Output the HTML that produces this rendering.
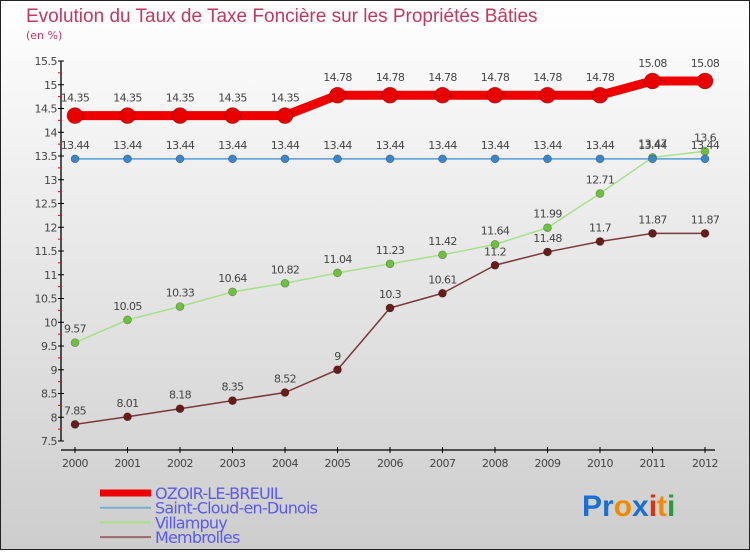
<!DOCTYPE html>
<html><head><meta charset="utf-8"><style>
html,body{margin:0;padding:0}
body{width:750px;height:550px;overflow:hidden;font-family:"DejaVu Sans","Liberation Sans",sans-serif}
</style></head><body>
<svg width="750" height="550" xmlns="http://www.w3.org/2000/svg">
<defs><linearGradient id="bg" x1="0" y1="0" x2="0" y2="1"><stop offset="0" stop-color="#ffffff"/><stop offset="1" stop-color="#cdcdcd"/></linearGradient></defs>
<rect x="0.5" y="0.5" width="749" height="549" fill="url(#bg)" stroke="#222"/>
<text x="26" y="22" font-size="19" fill="#c0395f" font-family="Liberation Sans,sans-serif">Evolution du Taux de Taxe Foncière sur les Propriétés Bâties</text>
<text x="26" y="39" font-size="11" fill="#c0395f">(en %)</text>
<g id="axes"></g><g id="series"></g><g id="legend"></g>
<g font-family="Liberation Sans,sans-serif" font-size="30" font-weight="bold">
<text x="582" y="516"><tspan fill="#1a6fd0">Pr</tspan><tspan fill="#f08a00">o</tspan><tspan fill="#1a6fd0">x</tspan><tspan fill="#e03010">i</tspan><tspan fill="#f08a00">t</tspan><tspan fill="#2a9a3a">i</tspan></text>
</g>
</svg>
<script>
const years=[2000,2001,2002,2003,2004,2005,2006,2007,2008,2009,2010,2011,2012];
const ozoir=[14.35,14.35,14.35,14.35,14.35,14.78,14.78,14.78,14.78,14.78,14.78,15.08,15.08];
const stcloud=[13.44,13.44,13.44,13.44,13.44,13.44,13.44,13.44,13.44,13.44,13.44,13.44,13.44];
const villampuy=[9.57,10.05,10.33,10.64,10.82,11.04,11.23,11.42,11.64,11.99,12.71,13.47,13.6];
const membrolles=[7.85,8.01,8.18,8.35,8.52,9,10.3,10.61,11.2,11.48,11.7,11.87,11.87];
const yTicks=[7.5,8,8.5,9,9.5,10,10.5,11,11.5,12,12.5,13,13.5,14,14.5,15,15.5];
const NS="http://www.w3.org/2000/svg";
const X=i=>75+i*52.5, Y=v=>441-(v-7.5)*47.5;
function mk(tag,attrs,parent,txt){const e=document.createElementNS(NS,tag);for(const k in attrs)e.setAttribute(k,attrs[k]);if(txt!==undefined)e.textContent=txt;parent.appendChild(e);return e;}
const ax=document.getElementById('axes');
let a=mk('line',{x1:61,y1:Y(15.5),x2:61,y2:Y(7.5),stroke:'#000','stroke-width':1.3},ax);

a=mk('line',{x1:61,y1:450,x2:715,y2:450,stroke:'#000','stroke-width':1.3},ax);

yTicks.forEach((t,i)=>{
 mk('line',{x1:58,y1:Y(t),x2:64,y2:Y(t),stroke:'#000'},ax);
 if(i<yTicks.length-1) mk('line',{x1:58,y1:Y(t+0.25),x2:61,y2:Y(t+0.25),stroke:'#e00'},ax);
 const l=mk('text',{x:57,y:Y(t)+4,'text-anchor':'end','font-size':11,fill:'#444','letter-spacing':'-0.5'},ax,String(t));
 
});
years.forEach((yr,i)=>{
 mk('line',{x1:X(i),y1:447,x2:X(i),y2:453,stroke:'#000'},ax);
 const l=mk('text',{x:X(i),y:467,'text-anchor':'middle','font-size':11,fill:'#444','letter-spacing':'-0.5'},ax,String(yr));
 
});
const sg=document.getElementById('series');
const defs=[
 {name:'membrolles',d:membrolles,c:'#7a3a3a',w:1.5,r:4,f:'#6b1a1a'},
 {name:'villampuy',d:villampuy,c:'#a8e08a',w:1.5,r:4,f:'#6fc040'},
 {name:'saint-cloud',d:stcloud,c:'#5a9ad0',w:1.5,r:4,f:'#3a86c8'},
 {name:'ozoir',d:ozoir,c:'#ee0000',w:9,r:8,f:'#e80000'}];
defs.forEach(s=>{
 const g=mk('g',{},sg);
 
 const p=mk('polyline',{points:s.d.map((v,i)=>X(i)+','+Y(v)).join(' '),fill:'none',stroke:s.c,'stroke-width':s.w,'stroke-linejoin':'round'},g);
 
 s.d.forEach((v,i)=>{
  const c=mk('circle',{cx:X(i),cy:Y(v),r:s.r,fill:s.f,stroke:'rgba(0,0,0,0.3)','stroke-width':0.7},g);
  
  const t=mk('text',{x:X(i),y:Y(v)-(s.r+6),'text-anchor':'middle','font-size':11,fill:'#444','letter-spacing':'-0.6'},g,String(v));
  
 });
});
const lg=document.getElementById('legend');
const items=[['OZOIR-LE-BREUIL','#ee0000',7],['Saint-Cloud-en-Dunois','#7aaed0',2],['Villampuy','#a8e08a',2],['Membrolles','#9a6868',2]];
items.forEach((it,i)=>{
 const y=493+i*14.7;
 const g=mk('g',{},lg);
 
 mk('line',{x1:100,y1:y,x2:151,y2:y,stroke:it[1],'stroke-width':it[2]},g);
 mk('text',{x:155,y:y+6,'font-size':16,fill:'#5a5aee','letter-spacing':'-0.8'},g,it[0]);
});
</script>
</body></html>
